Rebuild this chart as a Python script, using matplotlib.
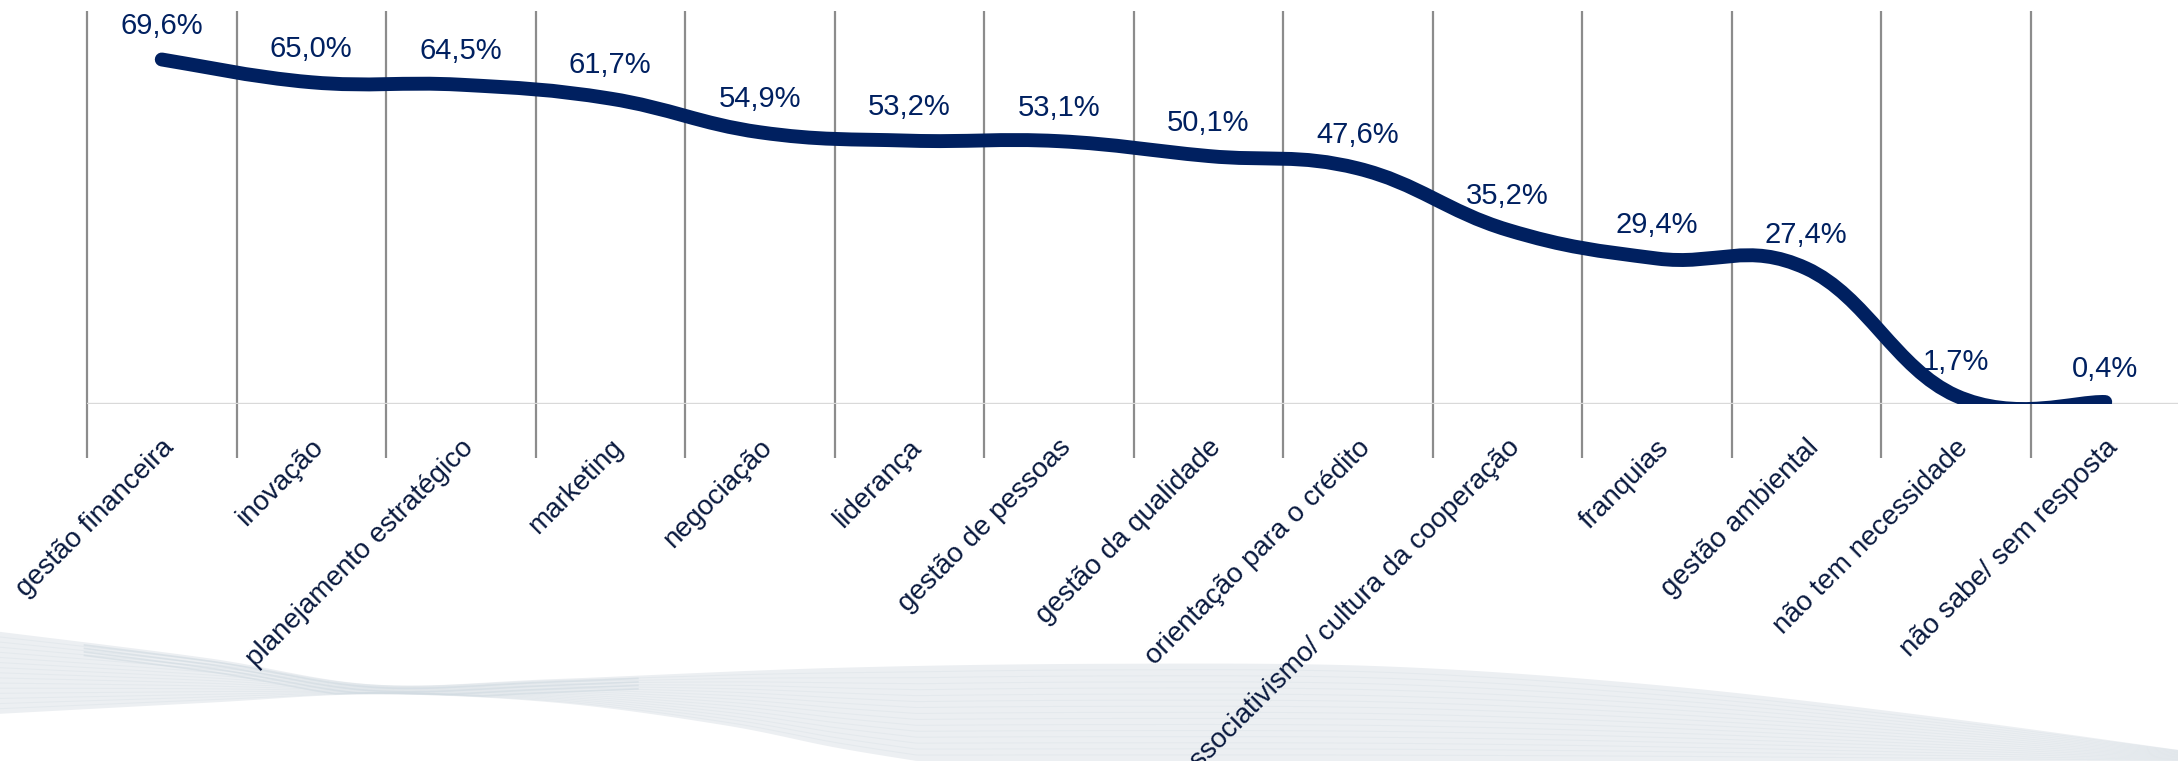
import numpy as np
import matplotlib
matplotlib.use("Agg")
from matplotlib import pyplot as plt
from matplotlib.path import Path
from matplotlib.patches import PathPatch

categories = ["gestão financeira", "inovação", "planejamento estratégico", "marketing",
              "negociação", "liderança", "gestão de pessoas", "gestão da qualidade",
              "orientação para o crédito", "associativismo/ cultura da cooperação",
              "franquias", "gestão ambiental", "não tem necessidade", "não sabe/ sem resposta"]
values = [69.6, 65.0, 64.5, 61.7, 54.9, 53.2, 53.1, 50.1, 47.6, 35.2, 29.4, 27.4, 1.7, 0.4]

navy = "#002060"
W, H = 2178, 761
fig = plt.figure(figsize=(W / 100, H / 100), dpi=100)


def smooth(xs, ys, n=40):
    # catmull-rom through points, used for the background swoosh only
    xs, ys = np.asarray(xs, float), np.asarray(ys, float)
    px = np.concatenate([[xs[0]], xs, [xs[-1]]])
    py = np.concatenate([[ys[0]], ys, [ys[-1]]])
    ox, oy = [], []
    for i in range(1, len(px) - 2):
        t = np.linspace(0, 1, n, endpoint=False)
        for arr, out in ((px, ox), (py, oy)):
            p0, p1, p2, p3 = arr[i - 1], arr[i], arr[i + 1], arr[i + 2]
            out.extend(0.5 * (2 * p1 + (-p0 + p2) * t + (2 * p0 - 5 * p1 + 4 * p2 - p3) * t ** 2
                              + (-p0 + 3 * p1 - 3 * p2 + p3) * t ** 3))
    ox.append(xs[-1]); oy.append(ys[-1])
    return np.array(ox), np.array(oy)


# decorative swoosh in the bottom area (pixel coords of the 1568x548 preview)
bg = fig.add_axes([0, 0, 1, 1], zorder=-5)
bg.set_xlim(0, 1568)
bg.set_ylim(548, 0)
bg.axis("off")
ux, uy = smooth([0, 150, 270, 400, 600, 800, 1000, 1200, 1400, 1568],
                [455, 474, 493, 489, 481, 478, 480, 494, 517, 540])
lx, ly = smooth([0, 150, 270, 400, 520, 600, 660], [514, 506, 500, 506, 522, 538, 548])
xx = np.linspace(0, 1568, 800)
up = np.interp(xx, ux, uy)
lo = np.where(xx <= 660, np.interp(xx, lx, ly), 548)
bg.fill_between(xx, up, lo, color="#ECEFF2", lw=0)
for k in range(1, 16):
    f = k / 16
    bg.plot(xx, up + (lo - up) * f, color="#DCE3E8", lw=0.7, alpha=0.5)
# darker strands through the pinch
pinch = (xx > 60) & (xx < 460)
for k in range(4):
    off = 2 + 2.5 * k
    bg.plot(xx[pinch], np.minimum(up[pinch] + off, lo[pinch] - 1), color="#D0DAE1", lw=1.2, alpha=0.6)

ax = fig.add_axes([87 / W, 357 / H, 2093 / W, 396 / H])
x = np.arange(len(values))
ax.set_xlim(-0.5, len(values) - 0.5)
ax.set_ylim(0, 80)
ax.axis("off")

# category separators, extended below the axis as tick marks
ax.vlines(np.arange(len(values) + 1) - 0.5, -10.9, 79.4, color="#8C8C8C", lw=1.6, clip_on=False, zorder=1)
ax.axhline(0, color="#D9D9D9", lw=2.4, zorder=2)

# smoothed line (bezier through the points, a bit more tension than catmull-rom)
tension = 1 / 5
y = np.array(values)
pts = np.column_stack([x, y])
ext = np.vstack([pts[0], pts, pts[-1]])
verts = [tuple(pts[0])]
codes = [Path.MOVETO]
for i in range(len(pts) - 1):
    p0, p1, p2, p3 = ext[i], ext[i + 1], ext[i + 2], ext[i + 3]
    verts += [tuple(p1 + (p2 - p0) * tension), tuple(p2 - (p3 - p1) * tension), tuple(p2)]
    codes += [Path.CURVE4] * 3
ax.add_patch(PathPatch(Path(verts, codes), fill=False, edgecolor=navy, lw=10,
                       capstyle="round", joinstyle="round", zorder=3))

for xi, v in zip(x, values):
    ax.annotate(f"{v:.1f}%".replace(".", ","), (xi, v), xytext=(0, 24), textcoords="offset points",
                ha="center", va="center", fontsize=21, color=navy,
                family=["Liberation Sans", "DejaVu Sans"], zorder=4)

for xi, lab in zip(x, categories):
    ax.text(xi - 0.005, -6.2, lab, rotation=45, rotation_mode="anchor", ha="right", va="top",
            fontsize=20, color="#0A1A3F", family=["Liberation Sans", "DejaVu Sans"], clip_on=False)

fig.savefig("out.png", dpi=100)
